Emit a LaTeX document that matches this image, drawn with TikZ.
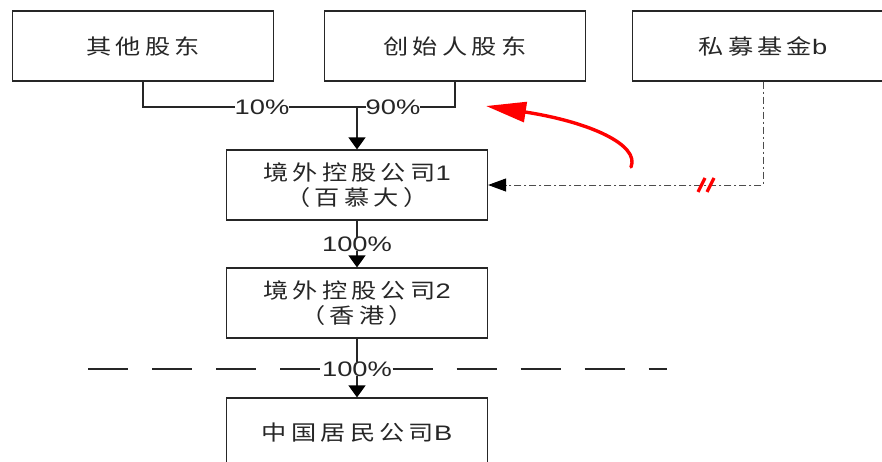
\documentclass[tikz,border=0pt]{standalone}
\usepackage{fontspec}
\setmainfont{Liberation Sans}[FakeStretch=1.3]
\newfontfamily\cjk{Noto Sans CJK SC}[FakeStretch=1.2,LetterSpace=20]
\usetikzlibrary{arrows.meta}

\begin{document}
\begin{tikzpicture}[x=1pt, y=-1pt, line width=1.2pt, color=black!85,
	firm/.style={draw, minimum width=\boxw, minimum height=\boxh, inner sep=0pt, align=center, font=\fontsize{21}{25}\selectfont},
	pct/.style={fill=white, inner sep=0pt, font=\fontsize{21}{25}\selectfont},
	arr/.style={-{Triangle[width=17pt,length=12pt,black]}},
	cut/.style={dash pattern=on 40pt off 24pt},
	dashdot/.style={line width=1pt, black!70, dash pattern=on 7pt off 3pt on 2pt off 3pt}]
\def \boxw {261pt}
\def \boxh {70pt}
\useasboundingbox (0,0) rectangle (882,461);

% shareholders
\node[firm] (qita) at (143,46) {\cjk 其他股东};
\node[firm] (chuangshi) at (455,46) {\cjk 创始人股东};
\node[firm] (simu) at (763,46) {{\cjk 私募基金}b};

% companies
\node[firm] (jw1) at (357,185) {{\cjk 境外控股公司}1\\{\cjk （百慕大）}};
\node[firm] (jw2) at (357,303) {{\cjk 境外控股公司}2\\{\cjk （香港）}};
\node[firm] (zgb) at (357,433) {{\cjk 中国居民公司}B};

\coordinate (junc) at (357,107);
\draw (qita.south) |- (junc) -| (chuangshi.south);
\node[pct] (p10) at (262,107) {10\%};
\node[pct] (p90) at (393,107) {90\%};
\draw[arr] (junc) -- (jw1.north);

\draw[arr] (jw1.south) -- (jw2.north) node[pct, midway] (p100a) {100\%};
\draw[arr] (jw2.south) -- (zgb.north);
\node[pct] (p100b) at (357,369) {100\%};

% border line
\coordinate (cutl) at (88,369);
\coordinate (cutr) at (667,369);
\draw[cut] (cutl) -- (p100b.west);
\draw[cut] (p100b.east) -- (cutr);

% fund b
\draw[dashdot, -{Triangle[width=13pt,length=18pt,black]}] (simu.south) |- (jw1.east);
\draw[red, line width=3.2pt] (698,192) -- (705,178) (707,192) -- (714,178);

\coordinate (redstart) at (631,167);
\coordinate (redend) at (486,106);
\draw[red, line width=3.4pt, line cap=round, -{Triangle[width=20pt,length=40pt]}] (redstart) .. controls (640,145) and (590,122) .. (redend);
\end{tikzpicture}
\end{document}
